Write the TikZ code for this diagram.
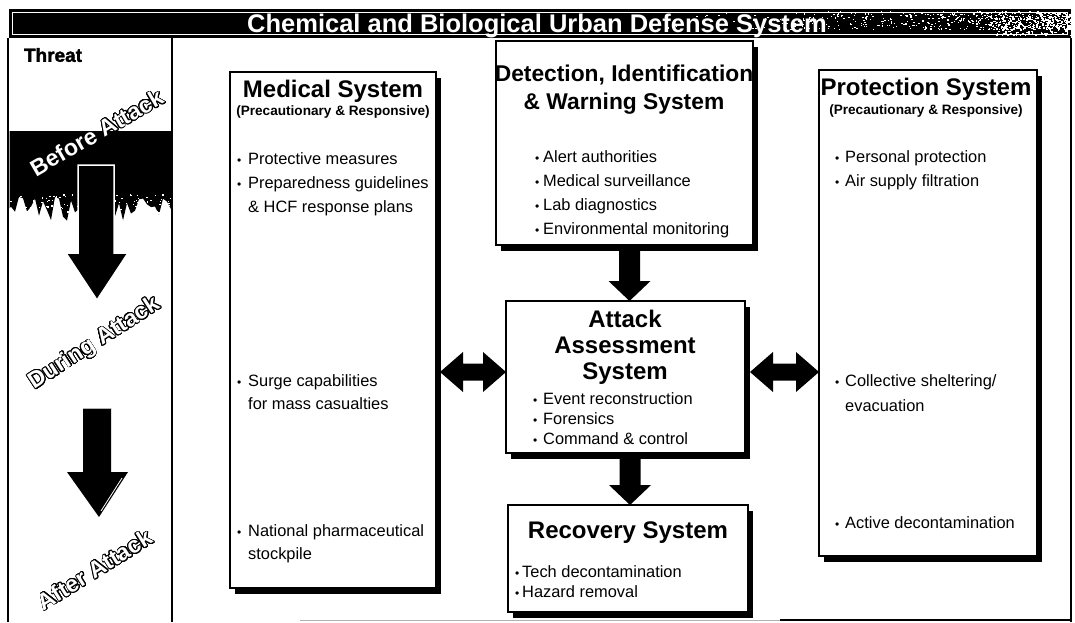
\documentclass[tikz,border=0pt]{standalone}
\usepackage{fontspec}
\setmainfont{Liberation Sans}
\newfontfamily\heavyfont[BoldFeatures={FakeBold=1.8}]{Liberation Sans}
\usepackage{contour}
\contourlength{0.8pt}
\contournumber{24}
\usetikzlibrary{calc,shadows}

\newcommand{\fsz}[1]{\fontsize{#1}{#1}\selectfont}
\newcommand{\bul}[1][10pt]{\makebox[#1][l]{\fsz{12}•}}

% block arrow pointing down, from a start point to a tip point
\newcommand{\dnarrow}[2]{%
  \fill[black] let \p1=(#1), \p2=(#2) in
    ({\x2-10.5pt},\y1) -- ({\x2+10.5pt},\y1) -- ({\x2+10.5pt},{\y2+20pt}) --
    ({\x2+21pt},{\y2+20pt}) -- (\x2,\y2) -- ({\x2-21pt},{\y2+20pt}) --
    ({\x2-10.5pt},{\y2+20pt}) -- cycle;}
% two-headed horizontal block arrow between two tip points
\newcommand{\lrarrow}[2]{%
  \fill[black] let \p1=(#1), \p2=(#2) in
    (\x1,\y1) -- ({\x1+23pt},{\y1+20pt}) -- ({\x1+23pt},{\y1+8.5pt}) --
    ({\x2-23pt},{\y1+8.5pt}) -- ({\x2-23pt},{\y1+20pt}) -- (\x2,\y1) --
    ({\x2-23pt},{\y1-20pt}) -- ({\x2-23pt},{\y1-8.5pt}) --
    ({\x1+23pt},{\y1-8.5pt}) -- ({\x1+23pt},{\y1-20pt}) -- cycle;}

\begin{document}
\begin{tikzpicture}[x=1pt,y=-1pt,
  sysbox/.style={draw=black, line width=1.5pt, fill=white, inner sep=0pt,
    outer sep=0pt, anchor=north west,
    drop shadow={shadow xshift=4.5pt, shadow yshift=-5.5pt, fill=black, opacity=1}},
  boxtitle/.style={font=\fsz{24}\bfseries, inner sep=0pt, anchor=base},
  subtitle/.style={font=\fsz{13.6}\bfseries, inner sep=0pt, anchor=base},
  item/.style={font=\fsz{16.4}, inner sep=0pt, anchor=base west},
  phase/.style={font=\fsz{23}\bfseries, inner sep=0pt}
]
\useasboundingbox (0,0) rectangle (1075,622);
\fill[white] (0,0) rectangle (1075,622);

% ---- title bar ----
\fill[black] (9,9) rectangle (1071,38);
\draw[white, line width=0.8pt] (12.5,12.5) rectangle (1067.5,34.5);
\pgfmathsetseed{42}
\foreach \i in {1,...,600}{
  \fill[white] ({1071-420*rnd*rnd},{11+18*rnd}) rectangle ++(1.4,1.1);
}
\foreach \i in {1,...,220}{
  \fill[white] ({995+76*rnd},{11+24*rnd}) rectangle ++(1.6,1.3);
}
\node[font=\fsz{25.5}\bfseries, text=white, inner sep=0pt, anchor=base] (title)
  at (537,32) {Chemical and Biological Urban Defense System};

% ---- frame ----
\draw[line width=1.6pt] (8,38) -- (8,622);
\draw[line width=1.6pt] (172,38) -- (172,622);
\draw[line width=1.6pt] (1071,38) -- (1071,622);
\draw[gray!60, line width=0.8pt] (300,620) -- (780,620);
\draw[line width=1.2pt] (780,620) -- (1071,620);

% ---- threat column ----
\node[font=\fsz{19}\heavyfont\bfseries, inner sep=0pt] (threat) at (53,55) {Threat};

% dark band with a ragged lower edge
\fill[black] (9.5,131) -- (171,131)
  \foreach \x in {171,167,...,11}{ -- (\x,{196+26*rnd}) } -- (9.5,208) -- cycle;
\foreach \i in {1,...,140}{
  \fill[white] ({10+160*rnd},{194+28*rnd}) rectangle ++(1.5,1.2);
}

% downward phase arrows
\fill[black, draw=white, line width=1.5pt]
  (78,165) -- (114,165) -- (114,253) -- (128,253) -- (97,300) -- (66,253) -- (78,253) -- cycle;
\fill[black] (83,408) -- (111,408) -- (111,472) -- (128,472) -- (99,517) -- (67,472) -- (83,472) -- cycle;
\draw[white, line width=0.8pt] (122,478) -- (101,511);
\draw[gray!60, line width=1pt] (83,408) -- (111,408);

\node[phase, rotate=30] (before) at (97,133)
  {\contour{black}{\textcolor{white}{Before Attack}}};
\node[phase, rotate=33] (during) at (95,344)
  {\contour{black}{\textcolor{white}{During Attack}}};
\node[phase, rotate=32] (after) at (95,570)
  {\contour{black}{\textcolor{white}{After Attack}}};

% ---- system boxes ----
\node[sysbox, minimum width=206pt, minimum height=516pt] (med) at (230,72) {};
\node[sysbox, minimum width=257pt, minimum height=204pt] (det) at (496,41) {};
\node[sysbox, minimum width=239pt, minimum height=152pt] (att) at (506,301) {};
\node[sysbox, minimum width=240pt, minimum height=107pt] (rec) at (508,505) {};
\node[sysbox, minimum width=218pt, minimum height=486pt] (pro) at (819,70) {};

% medical system
\node[boxtitle] (medT) at (333,97) {Medical System};
\node[subtitle] (medS) at (333,115) {(Precautionary \& Responsive)};
\node[item] (med1) at (237,164) {\bul[11pt]Protective measures};
\node[item] (med2) at (237,188) {\bul[11pt]Preparedness guidelines};
\node[item] (med3) at (248,212) {\& HCF response plans};
\node[item] (med4) at (237,386) {\bul[11pt]Surge capabilities};
\node[item] (med5) at (248,409) {for mass casualties};
\node[item] (med6) at (237,536) {\bul[11pt]National pharmaceutical};
\node[item] (med7) at (248,559) {stockpile};

% detection, identification and warning system
\node[boxtitle, font=\fsz{22.8}\bfseries] (detT) at (624,81) {Detection, Identification};
\node[boxtitle, font=\fsz{22.8}\bfseries] (detU) at (624,109) {\& Warning System};
\node[item] (det1) at (535,162) {\bul[8pt]Alert authorities};
\node[item] (det2) at (535,186) {\bul[8pt]Medical surveillance};
\node[item] (det3) at (535,210) {\bul[8pt]Lab diagnostics};
\node[item] (det4) at (535,234) {\bul[8pt]Environmental monitoring};

% attack assessment system
\node[boxtitle] (attT) at (625,327) {Attack};
\node[boxtitle] (attU) at (625,353) {Assessment};
\node[boxtitle] (attV) at (625,379) {System};
\node[item] (att1) at (533,404) {\bul[10pt]Event reconstruction};
\node[item] (att2) at (533,424) {\bul[10pt]Forensics};
\node[item] (att3) at (533,444) {\bul[10pt]Command \& control};

% recovery system
\node[boxtitle] (recT) at (628,538) {Recovery System};
\node[item] (rec1) at (515,577) {\bul[7pt]Tech decontamination};
\node[item] (rec2) at (515,597) {\bul[7pt]Hazard removal};

% protection system
\node[boxtitle] (proT) at (926,95) {Protection System};
\node[subtitle] (proS) at (926,114) {(Precautionary \& Responsive)};
\node[item] (pro1) at (835,162) {\bul[10pt]Personal protection};
\node[item] (pro2) at (835,186) {\bul[10pt]Air supply filtration};
\node[item] (pro3) at (835,386) {\bul[10pt]Collective sheltering/};
\node[item] (pro4) at (845,411) {evacuation};
\node[item] (pro5) at (835,528) {\bul[10pt]Active decontamination};

% ---- connectors ----
\dnarrow{$(det.south)+(4,6)$}{$(att.north)+(4,0)$}
\dnarrow{$(att.south)+(4,6)$}{$(rec.north)+(2,0)$}
\lrarrow{$(med.east |- att.west)+(4,-5)$}{$(att.west)+(0,-5)$}
\lrarrow{$(att.east)+(5,-5)$}{$(pro.west |- att.east)+(0,-5)$}
\end{tikzpicture}
\end{document}
